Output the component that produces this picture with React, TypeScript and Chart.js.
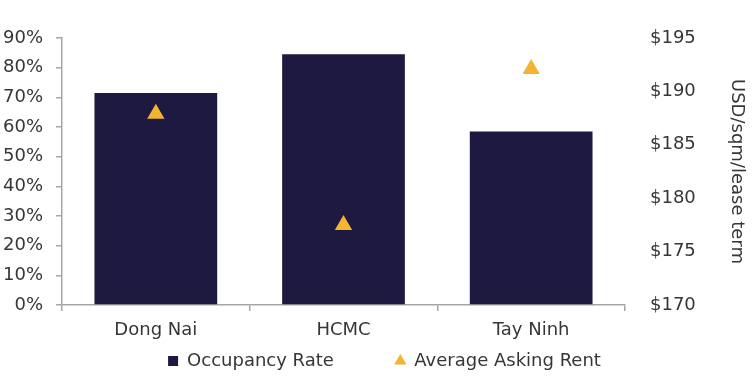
import React, { useEffect, useRef } from "react";
import { Chart, registerables } from "chart.js";

Chart.register(...registerables);

const categories = ["Dong Nai", "HCMC", "Tay Ninh"];
const occupancyRate = [71.5, 84.5, 58.5];
const averageAskingRent = [187.9, 177.5, 192.1];
const seriesNames = ["Occupancy Rate", "Average Asking Rent"];
const rightAxisTitle = "USD/sqm/lease term";
const leftAxisRange = [0, 90, 10];
const rightAxisRange = [170, 195, 5];

const BAR_COLOR = "#1E1940";
const MARKER_COLOR = "#F2B431";
const TEXT_COLOR = "#363636";
const AXIS_COLOR = "#A6A6A6";
const FONT = { family: "'DejaVu Sans', sans-serif", size: 18 };

export default function App() {
  const ref = useRef<HTMLCanvasElement | null>(null);

  useEffect(() => {
    if (!ref.current) return;
    const chart = new Chart(ref.current, {
      type: "bar",
      data: {
        labels: categories,
        datasets: [
          {
            type: "bar",
            label: seriesNames[0],
            data: occupancyRate,
            backgroundColor: BAR_COLOR,
            borderWidth: 0,
            yAxisID: "y",
            categoryPercentage: 1,
            barPercentage: 0.654,
            pointStyle: "rect",
            order: 1,
          } as any,
          {
            type: "line",
            label: seriesNames[1],
            data: averageAskingRent,
            showLine: false,
            backgroundColor: MARKER_COLOR,
            borderColor: MARKER_COLOR,
            borderWidth: 0,
            pointStyle: "triangle",
            pointRadius: 10,
            pointHoverRadius: 10,
            pointBackgroundColor: MARKER_COLOR,
            pointBorderWidth: 0,
            yAxisID: "y1",
            order: 0,
          } as any,
        ],
      },
      options: {
        responsive: false,
        animation: false,
        devicePixelRatio: 1,
        layout: { padding: { top: 38, left: 0, right: -16, bottom: 4 } },
        plugins: {
          tooltip: { enabled: false },
          legend: {
            position: "bottom",
            labels: {
              usePointStyle: true,
              boxWidth: 10,
              boxHeight: 10,
              padding: 10,
              font: FONT,
              color: TEXT_COLOR,
              sort: (a: any, b: any) => a.datasetIndex - b.datasetIndex,
              generateLabels: (c: any) =>
                Chart.defaults.plugins.legend.labels
                  .generateLabels(c)
                  .map((l: any) =>
                    l.datasetIndex === 0 ? { ...l, text: l.text + "         " } : l
                  ),
            },
          },
        },
        scales: {
          x: {
            grid: {
              display: true,
              drawOnChartArea: false,
              offset: true,
              tickLength: 6,
              color: AXIS_COLOR,
              lineWidth: 1.5,
            },
            border: { color: AXIS_COLOR, width: 1.5 },
            ticks: { font: FONT, color: TEXT_COLOR, padding: 9 },
            afterFit: (s: any) => {
              s.height = 37;
            },
          },
          y: {
            position: "left",
            min: leftAxisRange[0],
            max: leftAxisRange[1],
            grid: {
              drawOnChartArea: false,
              tickLength: 6,
              color: AXIS_COLOR,
              lineWidth: 1.5,
            },
            border: { color: AXIS_COLOR, width: 1.5 },
            ticks: {
              stepSize: leftAxisRange[2],
              font: FONT,
              color: TEXT_COLOR,
              padding: 13,
              callback: (v: any) => `${v}%`,
            },
            afterFit: (s: any) => {
              s.width = 62;
            },
          },
          y1: {
            position: "right",
            min: rightAxisRange[0],
            max: rightAxisRange[1],
            grid: { display: false, drawTicks: false, drawOnChartArea: false },
            border: { display: false },
            ticks: {
              stepSize: rightAxisRange[2],
              font: FONT,
              color: TEXT_COLOR,
              padding: 25,
              callback: (v: any) => `$${v}`,
            },
            title: {
              display: true,
              text: rightAxisTitle,
              font: FONT,
              color: TEXT_COLOR,
              padding: { top: 22, bottom: 0 },
            },
            afterFit: (s: any) => {
              s.width = 144;
            },
          },
        },
      } as any,
    });
    return () => chart.destroy();
  }, []);

  return (
    <div style={{ position: "fixed", left: 0, top: 0, width: 753, height: 384, background: "#fff" }}>
      <canvas ref={ref} width={753} height={384} style={{ display: "block", width: 753, height: 384 }} />
    </div>
  );
}
